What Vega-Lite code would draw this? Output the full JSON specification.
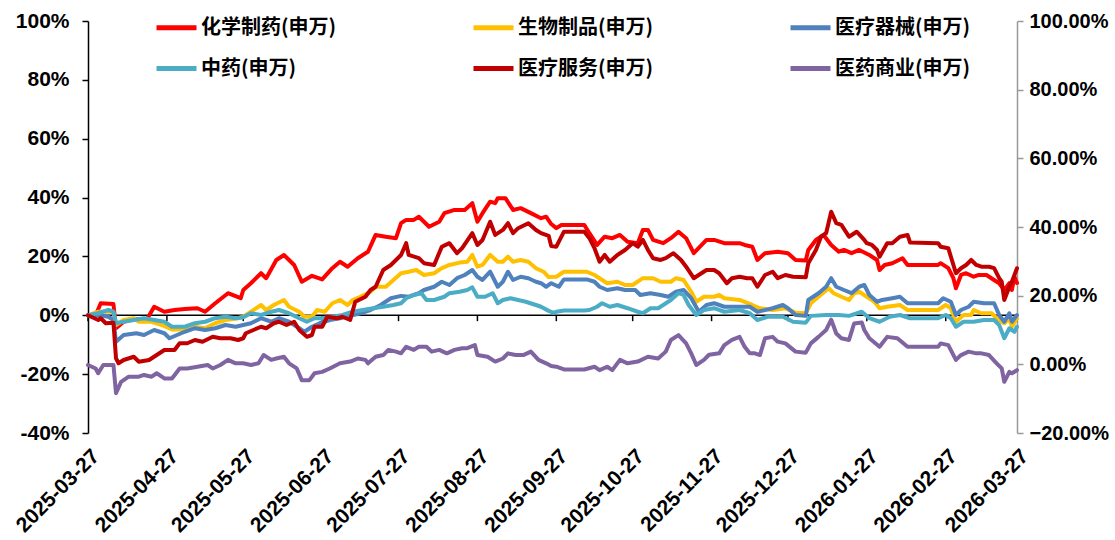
{
"$schema": "https://vega.github.io/schema/vega-lite/v6.json",
"width": 929, "height": 412,
"autosize": {"type": "none"},
"padding": {"left": 88, "top": 21, "right": 98, "bottom": 107},
"background": "white",
"config": {"view": {"stroke": null}, "font": "Liberation Sans"},
"datasets": {
"R": [{"d":"2025/03/27","v":0},{"d":"2025/03/30","v":0},{"d":"2025/04/01","v":4.1},{"d":"2025/04/06","v":3.8},{"d":"2025/04/07","v":-4.4},{"d":"2025/04/10","v":-2.2},{"d":"2025/04/14","v":-1.3},{"d":"2025/04/19","v":-1.6},{"d":"2025/04/22","v":2.9},{"d":"2025/04/26","v":1.2},{"d":"2025/04/30","v":1.8},{"d":"2025/05/04","v":2.1},{"d":"2025/05/09","v":2.4},{"d":"2025/05/12","v":1.2},{"d":"2025/05/16","v":4.1},{"d":"2025/05/21","v":7.5},{"d":"2025/05/26","v":5.8},{"d":"2025/05/27","v":8.6},{"d":"2025/05/30","v":10.9},{"d":"2025/06/03","v":14.3},{"d":"2025/06/05","v":12.6},{"d":"2025/06/09","v":18.8},{"d":"2025/06/12","v":20.5},{"d":"2025/06/16","v":17.1},{"d":"2025/06/19","v":11.4},{"d":"2025/06/23","v":13.4},{"d":"2025/06/27","v":12.2},{"d":"2025/07/01","v":16},{"d":"2025/07/04","v":18.2},{"d":"2025/07/07","v":16.5},{"d":"2025/07/11","v":19.4},{"d":"2025/07/15","v":21.6},{"d":"2025/07/18","v":27.3},{"d":"2025/07/22","v":26.7},{"d":"2025/07/26","v":26.2},{"d":"2025/07/28","v":31.3},{"d":"2025/07/30","v":32.4},{"d":"2025/08/02","v":32.4},{"d":"2025/08/04","v":33.5},{"d":"2025/08/08","v":30.1},{"d":"2025/08/12","v":31.8},{"d":"2025/08/14","v":34.7},{"d":"2025/08/18","v":35.8},{"d":"2025/08/22","v":35.8},{"d":"2025/08/25","v":38.1},{"d":"2025/08/27","v":31.8},{"d":"2025/08/29","v":34.7},{"d":"2025/09/01","v":38.6},{"d":"2025/09/03","v":38.1},{"d":"2025/09/04","v":39.8},{"d":"2025/09/07","v":39.8},{"d":"2025/09/10","v":35.8},{"d":"2025/09/13","v":36.4},{"d":"2025/09/17","v":34.7},{"d":"2025/09/21","v":33.0},{"d":"2025/09/23","v":33.5},{"d":"2025/09/25","v":31.0},{"d":"2025/09/27","v":29.6},{"d":"2025/09/29","v":30.7},{"d":"2025/10/08","v":30.7},{"d":"2025/10/10","v":27.9},{"d":"2025/10/13","v":23.9},{"d":"2025/10/16","v":26.7},{"d":"2025/10/19","v":26.2},{"d":"2025/10/22","v":27.3},{"d":"2025/10/25","v":25.0},{"d":"2025/10/29","v":24.5},{"d":"2025/10/31","v":29.0},{"d":"2025/11/02","v":29.0},{"d":"2025/11/04","v":25.6},{"d":"2025/11/08","v":24.5},{"d":"2025/11/11","v":26.2},{"d":"2025/11/14","v":28.4},{"d":"2025/11/17","v":26.2},{"d":"2025/11/20","v":21.1},{"d":"2025/11/25","v":25.6},{"d":"2025/11/28","v":25.6},{"d":"2025/12/02","v":24.5},{"d":"2025/12/08","v":24.5},{"d":"2025/12/10","v":23.9},{"d":"2025/12/13","v":23.3},{"d":"2025/12/15","v":18.8},{"d":"2025/12/18","v":21.1},{"d":"2025/12/23","v":21.6},{"d":"2025/12/27","v":21.1},{"d":"2025/12/30","v":18.8},{"d":"2026/01/03","v":18.6},{"d":"2026/01/04","v":22.2},{"d":"2026/01/07","v":25.6},{"d":"2026/01/10","v":27.3},{"d":"2026/01/13","v":23.9},{"d":"2026/01/16","v":21.6},{"d":"2026/01/18","v":22.2},{"d":"2026/01/21","v":21.1},{"d":"2026/01/24","v":22.2},{"d":"2026/01/28","v":20.5},{"d":"2026/01/31","v":18.8},{"d":"2026/02/01","v":15.4},{"d":"2026/02/03","v":17.1},{"d":"2026/02/06","v":17.7},{"d":"2026/02/10","v":19.4},{"d":"2026/02/12","v":17.1},{"d":"2026/02/24","v":17.1},{"d":"2026/02/25","v":17.7},{"d":"2026/02/28","v":16.0},{"d":"2026/03/02","v":12.6},{"d":"2026/03/03","v":9.2},{"d":"2026/03/05","v":13.7},{"d":"2026/03/07","v":14.3},{"d":"2026/03/10","v":13.1},{"d":"2026/03/12","v":13.7},{"d":"2026/03/15","v":13.7},{"d":"2026/03/18","v":12.0},{"d":"2026/03/20","v":10.9},{"d":"2026/03/22","v":8.6},{"d":"2026/03/24","v":10.9},{"d":"2026/03/25","v":8.6},{"d":"2026/03/26","v":13.1},{"d":"2026/03/27","v":11.0}],
"Y": [{"d":"2025/03/27","v":0},{"d":"2025/03/31","v":1.2},{"d":"2025/04/06","v":1.2},{"d":"2025/04/07","v":-3.3},{"d":"2025/04/10","v":-1.6},{"d":"2025/04/14","v":-1.0},{"d":"2025/04/16","v":-2.2},{"d":"2025/04/21","v":-2.2},{"d":"2025/04/25","v":-3.3},{"d":"2025/04/29","v":-4.8},{"d":"2025/05/04","v":-4.8},{"d":"2025/05/08","v":-3.9},{"d":"2025/05/12","v":-4.4},{"d":"2025/05/16","v":-2.7},{"d":"2025/05/20","v":-1.6},{"d":"2025/05/25","v":-1.0},{"d":"2025/05/27","v":-0.5},{"d":"2025/05/30","v":1.2},{"d":"2025/06/03","v":3.5},{"d":"2025/06/05","v":1.8},{"d":"2025/06/08","v":3.5},{"d":"2025/06/12","v":5.2},{"d":"2025/06/14","v":2.9},{"d":"2025/06/18","v":1.2},{"d":"2025/06/20","v":-0.5},{"d":"2025/06/23","v":-0.5},{"d":"2025/06/25","v":1.8},{"d":"2025/06/28","v":1.2},{"d":"2025/07/01","v":4.1},{"d":"2025/07/04","v":5.2},{"d":"2025/07/07","v":3.5},{"d":"2025/07/09","v":5.2},{"d":"2025/07/12","v":6.3},{"d":"2025/07/16","v":8.0},{"d":"2025/07/18","v":9.7},{"d":"2025/07/22","v":9.7},{"d":"2025/07/25","v":12.0},{"d":"2025/07/28","v":14.3},{"d":"2025/07/31","v":14.8},{"d":"2025/08/03","v":15.4},{"d":"2025/08/06","v":13.7},{"d":"2025/08/10","v":14.3},{"d":"2025/08/13","v":16.0},{"d":"2025/08/16","v":17.1},{"d":"2025/08/20","v":17.9},{"d":"2025/08/23","v":18.2},{"d":"2025/08/25","v":20.5},{"d":"2025/08/27","v":16.5},{"d":"2025/08/29","v":17.1},{"d":"2025/09/01","v":20.5},{"d":"2025/09/04","v":18.2},{"d":"2025/09/06","v":18.2},{"d":"2025/09/08","v":19.9},{"d":"2025/09/10","v":18.2},{"d":"2025/09/13","v":18.8},{"d":"2025/09/16","v":18.2},{"d":"2025/09/19","v":16.0},{"d":"2025/09/22","v":14.8},{"d":"2025/09/24","v":13.0},{"d":"2025/09/27","v":13.1},{"d":"2025/09/30","v":14.8},{"d":"2025/10/09","v":14.8},{"d":"2025/10/12","v":13.7},{"d":"2025/10/14","v":12.6},{"d":"2025/10/17","v":10.9},{"d":"2025/10/21","v":11.4},{"d":"2025/10/24","v":10.3},{"d":"2025/10/27","v":10.3},{"d":"2025/10/31","v":12.6},{"d":"2025/11/04","v":12.6},{"d":"2025/11/07","v":11.4},{"d":"2025/11/11","v":11.4},{"d":"2025/11/13","v":12.6},{"d":"2025/11/16","v":12.0},{"d":"2025/11/19","v":8.0},{"d":"2025/11/21","v":4.6},{"d":"2025/11/24","v":6.3},{"d":"2025/11/28","v":6.3},{"d":"2025/11/30","v":6.9},{"d":"2025/12/02","v":5.8},{"d":"2025/12/08","v":5.2},{"d":"2025/12/13","v":3.5},{"d":"2025/12/16","v":2.4},{"d":"2025/12/21","v":1.8},{"d":"2025/12/26","v":2.4},{"d":"2025/12/30","v":0.9},{"d":"2026/01/03","v":0.7},{"d":"2026/01/05","v":4.1},{"d":"2026/01/08","v":6.3},{"d":"2026/01/12","v":9.2},{"d":"2026/01/14","v":7.5},{"d":"2026/01/17","v":6.3},{"d":"2026/01/20","v":5.2},{"d":"2026/01/22","v":7.5},{"d":"2026/01/24","v":8.0},{"d":"2026/01/27","v":6.3},{"d":"2026/01/30","v":4.6},{"d":"2026/02/01","v":2.4},{"d":"2026/02/04","v":2.9},{"d":"2026/02/09","v":3.5},{"d":"2026/02/12","v":1.8},{"d":"2026/02/24","v":1.8},{"d":"2026/02/27","v":3.5},{"d":"2026/03/01","v":2.4},{"d":"2026/03/03","v":-2.2},{"d":"2026/03/06","v":0.1},{"d":"2026/03/09","v":0.1},{"d":"2026/03/10","v":1.8},{"d":"2026/03/13","v":0.7},{"d":"2026/03/17","v":0.7},{"d":"2026/03/19","v":-1.0},{"d":"2026/03/22","v":-2.7},{"d":"2026/03/24","v":-1.0},{"d":"2026/03/25","v":-3.9},{"d":"2026/03/27","v":-1.0}],
"B": [{"d":"2025/03/27","v":0},{"d":"2025/03/31","v":0.1},{"d":"2025/04/04","v":-0.5},{"d":"2025/04/06","v":-1.6},{"d":"2025/04/07","v":-9.0},{"d":"2025/04/10","v":-6.7},{"d":"2025/04/15","v":-6.1},{"d":"2025/04/18","v":-6.7},{"d":"2025/04/22","v":-5.0},{"d":"2025/04/26","v":-6.1},{"d":"2025/04/28","v":-7.8},{"d":"2025/05/01","v":-6.7},{"d":"2025/05/04","v":-5.6},{"d":"2025/05/08","v":-4.4},{"d":"2025/05/12","v":-5.0},{"d":"2025/05/16","v":-4.4},{"d":"2025/05/20","v":-3.3},{"d":"2025/05/24","v":-3.9},{"d":"2025/05/27","v":-3.3},{"d":"2025/05/30","v":-2.7},{"d":"2025/06/03","v":-1.0},{"d":"2025/06/07","v":-2.2},{"d":"2025/06/10","v":-1.0},{"d":"2025/06/14","v":-2.2},{"d":"2025/06/18","v":-4.4},{"d":"2025/06/20","v":-5.6},{"d":"2025/06/23","v":-3.9},{"d":"2025/06/26","v":-2.7},{"d":"2025/06/30","v":-1.6},{"d":"2025/07/04","v":-1.0},{"d":"2025/07/08","v":-0.2},{"d":"2025/07/12","v":0.7},{"d":"2025/07/16","v":1.8},{"d":"2025/07/20","v":3.5},{"d":"2025/07/24","v":5.8},{"d":"2025/07/28","v":6.6},{"d":"2025/07/31","v":6.3},{"d":"2025/08/04","v":7.5},{"d":"2025/08/06","v":8.6},{"d":"2025/08/10","v":9.7},{"d":"2025/08/13","v":11.4},{"d":"2025/08/16","v":10.3},{"d":"2025/08/19","v":12.6},{"d":"2025/08/22","v":13.7},{"d":"2025/08/25","v":15.4},{"d":"2025/08/27","v":13.1},{"d":"2025/08/29","v":12.0},{"d":"2025/09/01","v":14.8},{"d":"2025/09/04","v":9.7},{"d":"2025/09/06","v":11.4},{"d":"2025/09/08","v":14.8},{"d":"2025/09/10","v":12.0},{"d":"2025/09/13","v":13.1},{"d":"2025/09/16","v":12.6},{"d":"2025/09/19","v":11.4},{"d":"2025/09/21","v":10.9},{"d":"2025/09/23","v":9.7},{"d":"2025/09/25","v":10.9},{"d":"2025/09/28","v":9.7},{"d":"2025/09/30","v":12.2},{"d":"2025/10/09","v":12.2},{"d":"2025/10/12","v":11.4},{"d":"2025/10/14","v":9.7},{"d":"2025/10/17","v":8.6},{"d":"2025/10/21","v":9.2},{"d":"2025/10/24","v":8.6},{"d":"2025/10/28","v":8.6},{"d":"2025/10/30","v":6.9},{"d":"2025/11/03","v":7.5},{"d":"2025/11/07","v":6.9},{"d":"2025/11/10","v":6.3},{"d":"2025/11/13","v":8.0},{"d":"2025/11/16","v":8.6},{"d":"2025/11/19","v":5.8},{"d":"2025/11/22","v":1.2},{"d":"2025/11/25","v":3.5},{"d":"2025/11/28","v":4.1},{"d":"2025/12/02","v":2.9},{"d":"2025/12/12","v":2.9},{"d":"2025/12/15","v":1.2},{"d":"2025/12/21","v":2.4},{"d":"2025/12/25","v":3.5},{"d":"2025/12/27","v":2.4},{"d":"2025/12/30","v":0.1},{"d":"2026/01/03","v":-0.2},{"d":"2026/01/04","v":5.2},{"d":"2026/01/08","v":7.5},{"d":"2026/01/11","v":9.7},{"d":"2026/01/13","v":12.6},{"d":"2026/01/15","v":9.7},{"d":"2026/01/18","v":8.6},{"d":"2026/01/21","v":7.5},{"d":"2026/01/24","v":9.7},{"d":"2026/01/26","v":10.3},{"d":"2026/01/28","v":6.9},{"d":"2026/01/31","v":4.6},{"d":"2026/02/02","v":5.2},{"d":"2026/02/06","v":5.8},{"d":"2026/02/09","v":6.3},{"d":"2026/02/12","v":4.1},{"d":"2026/02/24","v":4.1},{"d":"2026/02/26","v":5.8},{"d":"2026/03/01","v":4.6},{"d":"2026/03/03","v":0.1},{"d":"2026/03/05","v":1.8},{"d":"2026/03/08","v":2.9},{"d":"2026/03/10","v":4.6},{"d":"2026/03/14","v":4.1},{"d":"2026/03/18","v":4.1},{"d":"2026/03/20","v":0.1},{"d":"2026/03/22","v":-2.2},{"d":"2026/03/24","v":0.7},{"d":"2026/03/25","v":-2.2},{"d":"2026/03/27","v":0.1}],
"C": [{"d":"2025/03/27","v":0},{"d":"2025/03/31","v":0.7},{"d":"2025/04/04","v":1.8},{"d":"2025/04/06","v":1.2},{"d":"2025/04/07","v":-2.7},{"d":"2025/04/10","v":-2.2},{"d":"2025/04/14","v":-1.6},{"d":"2025/04/18","v":-1.0},{"d":"2025/04/22","v":-1.6},{"d":"2025/04/26","v":-2.2},{"d":"2025/04/29","v":-3.9},{"d":"2025/05/04","v":-3.9},{"d":"2025/05/08","v":-2.7},{"d":"2025/05/12","v":-2.2},{"d":"2025/05/16","v":-1.0},{"d":"2025/05/20","v":-0.5},{"d":"2025/05/24","v":-1.0},{"d":"2025/05/27","v":-0.7},{"d":"2025/05/30","v":0.7},{"d":"2025/06/03","v":0.1},{"d":"2025/06/07","v":1.2},{"d":"2025/06/10","v":1.8},{"d":"2025/06/14","v":0.7},{"d":"2025/06/18","v":-1.0},{"d":"2025/06/21","v":-2.2},{"d":"2025/06/24","v":-1.0},{"d":"2025/06/27","v":-1.0},{"d":"2025/07/01","v":-0.5},{"d":"2025/07/05","v":0.1},{"d":"2025/07/09","v":1.2},{"d":"2025/07/13","v":1.8},{"d":"2025/07/17","v":2.4},{"d":"2025/07/21","v":2.9},{"d":"2025/07/25","v":3.5},{"d":"2025/07/28","v":4.1},{"d":"2025/07/30","v":5.8},{"d":"2025/08/02","v":6.9},{"d":"2025/08/05","v":7.5},{"d":"2025/08/07","v":5.2},{"d":"2025/08/10","v":5.2},{"d":"2025/08/14","v":6.3},{"d":"2025/08/16","v":7.5},{"d":"2025/08/20","v":8.0},{"d":"2025/08/23","v":8.6},{"d":"2025/08/25","v":9.5},{"d":"2025/08/27","v":6.3},{"d":"2025/08/30","v":6.3},{"d":"2025/09/02","v":7.5},{"d":"2025/09/04","v":4.1},{"d":"2025/09/06","v":5.2},{"d":"2025/09/09","v":5.8},{"d":"2025/09/12","v":5.2},{"d":"2025/09/15","v":4.6},{"d":"2025/09/19","v":3.5},{"d":"2025/09/21","v":2.9},{"d":"2025/09/24","v":1.5},{"d":"2025/09/26","v":0.8},{"d":"2025/09/27","v":1.2},{"d":"2025/09/30","v":1.6},{"d":"2025/10/08","v":1.6},{"d":"2025/10/10","v":1.8},{"d":"2025/10/13","v":2.9},{"d":"2025/10/15","v":4.1},{"d":"2025/10/18","v":2.9},{"d":"2025/10/21","v":3.5},{"d":"2025/10/25","v":2.4},{"d":"2025/10/29","v":1.2},{"d":"2025/10/31","v":0.7},{"d":"2025/11/03","v":2.4},{"d":"2025/11/06","v":2.4},{"d":"2025/11/08","v":3.5},{"d":"2025/11/11","v":5.2},{"d":"2025/11/14","v":7.5},{"d":"2025/11/16","v":6.9},{"d":"2025/11/18","v":3.5},{"d":"2025/11/21","v":0.1},{"d":"2025/11/24","v":1.8},{"d":"2025/11/28","v":2.4},{"d":"2025/12/02","v":1.2},{"d":"2025/12/08","v":1.8},{"d":"2025/12/12","v":0.7},{"d":"2025/12/15","v":-1.6},{"d":"2025/12/19","v":-0.5},{"d":"2025/12/25","v":-0.5},{"d":"2025/12/29","v":-2.2},{"d":"2026/01/03","v":-2.5},{"d":"2026/01/05","v":-0.2},{"d":"2026/01/11","v":0.1},{"d":"2026/01/16","v":0.1},{"d":"2026/01/20","v":-0.2},{"d":"2026/01/25","v":1.2},{"d":"2026/01/28","v":-1.0},{"d":"2026/02/01","v":-2.2},{"d":"2026/02/05","v":-0.5},{"d":"2026/02/09","v":0.1},{"d":"2026/02/13","v":-1.0},{"d":"2026/02/24","v":-1.0},{"d":"2026/02/27","v":0.1},{"d":"2026/03/01","v":-1.0},{"d":"2026/03/03","v":-3.9},{"d":"2026/03/06","v":-2.2},{"d":"2026/03/10","v":-2.2},{"d":"2026/03/14","v":-1.6},{"d":"2026/03/18","v":-1.6},{"d":"2026/03/20","v":-3.3},{"d":"2026/03/22","v":-7.8},{"d":"2026/03/24","v":-4.4},{"d":"2026/03/26","v":-5.6},{"d":"2026/03/27","v":-3.9}],
"DR": [{"d":"2025/03/27","v":0},{"d":"2025/03/31","v":-1.6},{"d":"2025/04/01","v":-1.0},{"d":"2025/04/03","v":-2.7},{"d":"2025/04/06","v":-2.5},{"d":"2025/04/07","v":-14.6},{"d":"2025/04/08","v":-16.3},{"d":"2025/04/10","v":-15.2},{"d":"2025/04/14","v":-14.1},{"d":"2025/04/16","v":-15.8},{"d":"2025/04/20","v":-15.2},{"d":"2025/04/23","v":-13.5},{"d":"2025/04/26","v":-11.8},{"d":"2025/04/30","v":-11.8},{"d":"2025/05/02","v":-9.5},{"d":"2025/05/05","v":-9.5},{"d":"2025/05/08","v":-8.4},{"d":"2025/05/11","v":-9.0},{"d":"2025/05/15","v":-7.3},{"d":"2025/05/18","v":-7.8},{"d":"2025/05/22","v":-7.8},{"d":"2025/05/25","v":-8.4},{"d":"2025/05/27","v":-7.8},{"d":"2025/05/28","v":-6.1},{"d":"2025/05/31","v":-5.0},{"d":"2025/06/03","v":-3.9},{"d":"2025/06/05","v":-4.4},{"d":"2025/06/08","v":-2.7},{"d":"2025/06/10","v":-2.2},{"d":"2025/06/13","v":-3.3},{"d":"2025/06/16","v":-2.2},{"d":"2025/06/18","v":-5.0},{"d":"2025/06/21","v":-7.3},{"d":"2025/06/23","v":-6.7},{"d":"2025/06/24","v":-3.9},{"d":"2025/06/27","v":-3.9},{"d":"2025/06/29","v":-0.5},{"d":"2025/07/03","v":-1.0},{"d":"2025/07/05","v":-0.5},{"d":"2025/07/08","v":-1.6},{"d":"2025/07/10","v":4.6},{"d":"2025/07/14","v":6.3},{"d":"2025/07/16","v":8.6},{"d":"2025/07/18","v":9.7},{"d":"2025/07/21","v":15.4},{"d":"2025/07/24","v":17.1},{"d":"2025/07/26","v":18.8},{"d":"2025/07/28","v":20.5},{"d":"2025/07/30","v":24.5},{"d":"2025/07/31","v":20.5},{"d":"2025/08/04","v":19.4},{"d":"2025/08/06","v":17.7},{"d":"2025/08/10","v":17.1},{"d":"2025/08/13","v":23.3},{"d":"2025/08/16","v":24.5},{"d":"2025/08/19","v":21.1},{"d":"2025/08/21","v":22.8},{"d":"2025/08/25","v":27.9},{"d":"2025/08/27","v":23.9},{"d":"2025/08/29","v":25.6},{"d":"2025/09/01","v":31.8},{"d":"2025/09/03","v":27.3},{"d":"2025/09/06","v":29.0},{"d":"2025/09/08","v":31.3},{"d":"2025/09/10","v":27.9},{"d":"2025/09/12","v":29.6},{"d":"2025/09/16","v":31.3},{"d":"2025/09/19","v":29.0},{"d":"2025/09/21","v":27.9},{"d":"2025/09/24","v":27.0},{"d":"2025/09/25","v":23.5},{"d":"2025/09/27","v":23.3},{"d":"2025/09/30","v":28.4},{"d":"2025/10/08","v":28.4},{"d":"2025/10/10","v":26.2},{"d":"2025/10/12","v":22.8},{"d":"2025/10/14","v":18.2},{"d":"2025/10/16","v":20.5},{"d":"2025/10/18","v":18.2},{"d":"2025/10/21","v":20.5},{"d":"2025/10/24","v":22.2},{"d":"2025/10/27","v":24.5},{"d":"2025/10/29","v":23.3},{"d":"2025/10/31","v":25.6},{"d":"2025/11/02","v":22.2},{"d":"2025/11/04","v":19.4},{"d":"2025/11/07","v":18.8},{"d":"2025/11/09","v":19.4},{"d":"2025/11/12","v":21.1},{"d":"2025/11/15","v":18.8},{"d":"2025/11/17","v":16.5},{"d":"2025/11/20","v":12.6},{"d":"2025/11/23","v":14.3},{"d":"2025/11/25","v":15.4},{"d":"2025/11/28","v":15.4},{"d":"2025/11/30","v":14.3},{"d":"2025/12/03","v":10.9},{"d":"2025/12/05","v":12.6},{"d":"2025/12/08","v":13.1},{"d":"2025/12/11","v":12.6},{"d":"2025/12/13","v":12.6},{"d":"2025/12/15","v":9.7},{"d":"2025/12/18","v":13.7},{"d":"2025/12/21","v":14.8},{"d":"2025/12/23","v":12.6},{"d":"2025/12/26","v":13.7},{"d":"2025/12/29","v":13.1},{"d":"2026/01/03","v":12.9},{"d":"2026/01/04","v":17.7},{"d":"2026/01/07","v":22.2},{"d":"2026/01/09","v":26.7},{"d":"2026/01/11","v":27.9},{"d":"2026/01/13","v":35.2},{"d":"2026/01/15","v":31.3},{"d":"2026/01/17","v":30.7},{"d":"2026/01/20","v":26.7},{"d":"2026/01/23","v":28.4},{"d":"2026/01/26","v":25.6},{"d":"2026/01/27","v":24.5},{"d":"2026/01/29","v":23.9},{"d":"2026/01/31","v":22.2},{"d":"2026/02/01","v":19.9},{"d":"2026/02/04","v":24.5},{"d":"2026/02/06","v":24.5},{"d":"2026/02/09","v":26.7},{"d":"2026/02/12","v":27.3},{"d":"2026/02/13","v":24.7},{"d":"2026/02/24","v":24.5},{"d":"2026/02/25","v":23.3},{"d":"2026/02/28","v":22.8},{"d":"2026/03/03","v":14.3},{"d":"2026/03/05","v":16.0},{"d":"2026/03/07","v":17.1},{"d":"2026/03/09","v":18.8},{"d":"2026/03/11","v":17.1},{"d":"2026/03/13","v":16.5},{"d":"2026/03/16","v":16.5},{"d":"2026/03/18","v":16.0},{"d":"2026/03/20","v":12.6},{"d":"2026/03/21","v":11.4},{"d":"2026/03/22","v":5.2},{"d":"2026/03/24","v":9.7},{"d":"2026/03/25","v":11.4},{"d":"2026/03/27","v":16.0}],
"P": [{"d":"2025/03/27","v":-0.2},{"d":"2025/03/30","v":-1.2},{"d":"2025/03/31","v":-2.6},{"d":"2025/04/02","v":-0.2},{"d":"2025/04/06","v":-0.2},{"d":"2025/04/07","v":-8.4},{"d":"2025/04/09","v":-5.1},{"d":"2025/04/12","v":-3.6},{"d":"2025/04/16","v":-3.6},{"d":"2025/04/18","v":-3.1},{"d":"2025/04/21","v":-3.6},{"d":"2025/04/23","v":-2.6},{"d":"2025/04/26","v":-4.1},{"d":"2025/04/29","v":-4.1},{"d":"2025/05/02","v":-1.2},{"d":"2025/05/05","v":-1.2},{"d":"2025/05/09","v":-0.7},{"d":"2025/05/13","v":-0.2},{"d":"2025/05/15","v":-1.2},{"d":"2025/05/18","v":-0.2},{"d":"2025/05/21","v":1.3},{"d":"2025/05/24","v":0.3},{"d":"2025/05/27","v":0.3},{"d":"2025/05/30","v":-0.2},{"d":"2025/06/02","v":0.3},{"d":"2025/06/04","v":2.7},{"d":"2025/06/07","v":1.3},{"d":"2025/06/09","v":1.7},{"d":"2025/06/12","v":2.2},{"d":"2025/06/14","v":0.3},{"d":"2025/06/17","v":-1.2},{"d":"2025/06/19","v":-4.6},{"d":"2025/06/22","v":-4.6},{"d":"2025/06/24","v":-2.6},{"d":"2025/06/27","v":-2.2},{"d":"2025/06/30","v":-1.2},{"d":"2025/07/04","v":0.3},{"d":"2025/07/08","v":0.8},{"d":"2025/07/11","v":1.7},{"d":"2025/07/14","v":1.3},{"d":"2025/07/15","v":0.3},{"d":"2025/07/18","v":2.2},{"d":"2025/07/21","v":2.7},{"d":"2025/07/23","v":4.2},{"d":"2025/07/26","v":3.7},{"d":"2025/07/28","v":3.2},{"d":"2025/07/30","v":5.1},{"d":"2025/08/02","v":4.2},{"d":"2025/08/04","v":5.1},{"d":"2025/08/07","v":5.1},{"d":"2025/08/09","v":3.7},{"d":"2025/08/12","v":4.2},{"d":"2025/08/15","v":3.2},{"d":"2025/08/18","v":4.2},{"d":"2025/08/21","v":4.7},{"d":"2025/08/23","v":4.7},{"d":"2025/08/26","v":5.6},{"d":"2025/08/27","v":2.7},{"d":"2025/08/31","v":2.2},{"d":"2025/09/03","v":0.8},{"d":"2025/09/06","v":1.7},{"d":"2025/09/08","v":3.2},{"d":"2025/09/11","v":2.7},{"d":"2025/09/14","v":2.7},{"d":"2025/09/17","v":3.7},{"d":"2025/09/20","v":1.3},{"d":"2025/09/23","v":0.3},{"d":"2025/09/25","v":-0.5},{"d":"2025/09/27","v":-0.7},{"d":"2025/09/30","v":-1.5},{"d":"2025/10/08","v":-1.5},{"d":"2025/10/12","v":-0.7},{"d":"2025/10/14","v":-1.7},{"d":"2025/10/17","v":-0.7},{"d":"2025/10/19","v":-1.7},{"d":"2025/10/22","v":1.3},{"d":"2025/10/25","v":0.3},{"d":"2025/10/29","v":0.8},{"d":"2025/11/02","v":2.2},{"d":"2025/11/06","v":1.7},{"d":"2025/11/09","v":3.7},{"d":"2025/11/11","v":7.1},{"d":"2025/11/14","v":8.5},{"d":"2025/11/17","v":6.1},{"d":"2025/11/19","v":3.2},{"d":"2025/11/21","v":-0.2},{"d":"2025/11/24","v":1.3},{"d":"2025/11/26","v":2.8},{"d":"2025/11/30","v":3.2},{"d":"2025/12/02","v":5.6},{"d":"2025/12/05","v":7.1},{"d":"2025/12/08","v":8.0},{"d":"2025/12/10","v":5.1},{"d":"2025/12/12","v":3.2},{"d":"2025/12/14","v":3.2},{"d":"2025/12/16","v":2.7},{"d":"2025/12/18","v":7.6},{"d":"2025/12/21","v":8.0},{"d":"2025/12/23","v":6.6},{"d":"2025/12/26","v":6.1},{"d":"2025/12/30","v":3.7},{"d":"2026/01/03","v":3.4},{"d":"2026/01/05","v":6.1},{"d":"2026/01/08","v":8.0},{"d":"2026/01/11","v":10.0},{"d":"2026/01/13","v":13.0},{"d":"2026/01/15","v":9.0},{"d":"2026/01/17","v":7.6},{"d":"2026/01/20","v":7.1},{"d":"2026/01/22","v":11.9},{"d":"2026/01/25","v":12.2},{"d":"2026/01/26","v":10.0},{"d":"2026/01/28","v":7.6},{"d":"2026/02/01","v":5.1},{"d":"2026/02/04","v":8.0},{"d":"2026/02/08","v":7.6},{"d":"2026/02/12","v":5.1},{"d":"2026/02/24","v":5.1},{"d":"2026/02/25","v":6.1},{"d":"2026/02/28","v":5.6},{"d":"2026/03/03","v":1.3},{"d":"2026/03/05","v":2.7},{"d":"2026/03/08","v":3.7},{"d":"2026/03/11","v":3.2},{"d":"2026/03/13","v":3.2},{"d":"2026/03/16","v":2.7},{"d":"2026/03/19","v":0.3},{"d":"2026/03/21","v":-1.2},{"d":"2026/03/22","v":-5.1},{"d":"2026/03/24","v":-2.2},{"d":"2026/03/25","v":-2.6},{"d":"2026/03/27","v":-1.7}],
"ZERO": [{"d":"2025/03/27","d2":"2026/03/27","v":0}],
"TICKS": [{"d":"2025/03/27","v":0,"v2":-2},{"d":"2025/04/27","v":0,"v2":-2},{"d":"2025/05/27","v":0,"v2":-2},{"d":"2025/06/27","v":0,"v2":-2},{"d":"2025/07/27","v":0,"v2":-2},{"d":"2025/08/27","v":0,"v2":-2},{"d":"2025/09/27","v":0,"v2":-2},{"d":"2025/10/27","v":0,"v2":-2},{"d":"2025/11/27","v":0,"v2":-2},{"d":"2025/12/27","v":0,"v2":-2},{"d":"2026/01/27","v":0,"v2":-2},{"d":"2026/02/27","v":0,"v2":-2},{"d":"2026/03/27","v":0,"v2":-2}]
},
"encoding": {
  "x": {"field": "d", "type": "temporal",
    "scale": {"domain": [{"year": 2025, "month": 3, "date": 27}, {"year": 2026, "month": 3, "date": 27}]},
    "axis": {"title": null, "domain": false, "ticks": false, "grid": false, "format": "%Y-%m-%d", "labelAngle": -45,
      "values": [{"year":2025,"month":3,"date":27},{"year":2025,"month":4,"date":27},{"year":2025,"month":5,"date":27},{"year":2025,"month":6,"date":27},{"year":2025,"month":7,"date":27},{"year":2025,"month":8,"date":27},{"year":2025,"month":9,"date":27},{"year":2025,"month":10,"date":27},{"year":2025,"month":11,"date":27},{"year":2025,"month":12,"date":27},{"year":2026,"month":1,"date":27},{"year":2026,"month":2,"date":27},{"year":2026,"month":3,"date":27}],
      "labelFont": "Liberation Sans", "labelFontWeight": "bold", "labelFontSize": 21, "labelColor": "black", "labelPadding": 12, "labelOverlap": false, "labelBound": false, "labelFlush": false}}
},
"layer": [
  {
    "encoding": {
      "y": {"field": "v", "type": "quantitative",
        "scale": {"domain": [-40, 100], "nice": false, "zero": false},
        "axis": {"title": null, "orient": "left", "values": [-40,-20,0,20,40,60,80,100], "labelExpr": "datum.value + '%'", "grid": false,
          "domainColor": "black", "domainWidth": 1.5, "tickColor": "black", "tickSize": 6, "tickWidth": 1.5,
          "labelFont": "Liberation Sans", "labelFontWeight": "bold", "labelFontSize": 21, "labelColor": "black", "labelPadding": 13}}
    },
    "layer": [
      {"data": {"name": "ZERO"}, "mark": {"type": "rule", "color": "black", "strokeWidth": 1.5}, "encoding": {"x2": {"field": "d2"}}},
      {"data": {"name": "TICKS"}, "mark": {"type": "rule", "color": "black", "strokeWidth": 1.5}, "encoding": {"y2": {"field": "v2"}}},
      {"data": {"name": "R"}, "mark": {"type": "line", "strokeWidth": 4, "strokeJoin": "round", "strokeCap": "round"},
        "encoding": {"color": {"datum": "化学制药(申万)", "type": "nominal",
          "scale": {"domain": ["化学制药(申万)", "生物制品(申万)", "医疗器械(申万)", "中药(申万)", "医疗服务(申万)", "医药商业(申万)"],
                    "range": ["#FF0000", "#FFC000", "#4F81BD", "#4BACC6", "#C00000", "#8064A2"]},
          "legend": {"title": null, "orient": "none", "legendX": 66, "legendY": -16, "columns": 3, "direction": "horizontal",
            "symbolType": "stroke", "symbolSize": 1600, "symbolStrokeWidth": 5, "labelOffset": 2,
            "labelFont": "Noto Sans CJK SC", "labelFontWeight": "bold", "labelFontSize": 20, "labelColor": "black",
            "rowPadding": 8, "columnPadding": 126, "padding": 0, "labelLimit": 400}}}},
      {"data": {"name": "Y"}, "mark": {"type": "line", "strokeWidth": 4, "strokeJoin": "round", "strokeCap": "round"}, "encoding": {"color": {"datum": "生物制品(申万)", "type": "nominal"}}},
      {"data": {"name": "B"}, "mark": {"type": "line", "strokeWidth": 4, "strokeJoin": "round", "strokeCap": "round"}, "encoding": {"color": {"datum": "医疗器械(申万)", "type": "nominal"}}},
      {"data": {"name": "C"}, "mark": {"type": "line", "strokeWidth": 4, "strokeJoin": "round", "strokeCap": "round"}, "encoding": {"color": {"datum": "中药(申万)", "type": "nominal"}}},
      {"data": {"name": "DR"}, "mark": {"type": "line", "strokeWidth": 4, "strokeJoin": "round", "strokeCap": "round"}, "encoding": {"color": {"datum": "医疗服务(申万)", "type": "nominal"}}}
    ]
  },
  {
    "data": {"name": "P"},
    "mark": {"type": "line", "strokeWidth": 4, "strokeJoin": "round", "strokeCap": "round"},
    "encoding": {
      "y": {"field": "v", "type": "quantitative",
        "scale": {"domain": [-20, 100], "nice": false, "zero": false},
        "axis": {"title": null, "orient": "right", "values": [-20,0,20,40,60,80,100], "labelExpr": "format(datum.value, '.2f') + '%'", "grid": false,
          "domainColor": "#999999", "domainWidth": 1.5, "tickColor": "#999999", "tickSize": 6, "tickWidth": 1.5,
          "labelFont": "Liberation Sans", "labelFontWeight": "bold", "labelFontSize": 20, "labelColor": "black", "labelPadding": 6}},
      "color": {"datum": "医药商业(申万)", "type": "nominal"}
    }
  }
],
"resolve": {"scale": {"y": "independent"}}
}
